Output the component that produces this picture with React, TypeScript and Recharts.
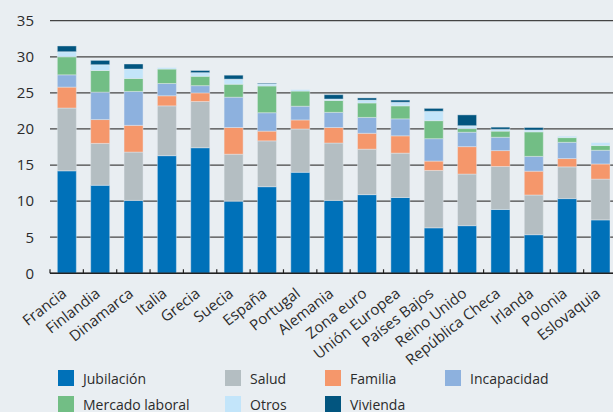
import React from 'react';
import { BarChart, Bar, XAxis, YAxis, CartesianGrid } from 'recharts';

// ---- data ----
const countries = [
  'Francia', 'Finlandia', 'Dinamarca', 'Italia', 'Grecia', 'Suecia', 'España', 'Portugal',
  'Alemania', 'Zona euro', 'Unión Europea', 'Países Bajos', 'Reino Unido', 'República Checa',
  'Irlanda', 'Polonia', 'Eslovaquia',
];
const jubilacion = [14.2, 12.2, 10.1, 16.3, 17.4, 10.0, 12.0, 14.0, 10.1, 10.9, 10.5, 6.3, 6.6, 8.85, 5.35, 10.35, 7.4];
const salud = [8.7, 5.8, 6.7, 6.9, 6.4, 6.5, 6.35, 6.0, 7.95, 6.3, 6.15, 7.95, 7.15, 5.95, 5.5, 4.4, 5.65];
const familia = [2.9, 3.3, 3.7, 1.4, 1.2, 3.7, 1.35, 1.25, 2.15, 2.2, 2.4, 1.3, 3.8, 2.2, 3.3, 1.15, 2.1];
const incapacidad = [1.7, 3.8, 4.7, 1.7, 1.0, 4.2, 2.55, 1.9, 2.1, 2.2, 2.35, 3.1, 2.0, 1.85, 2.05, 2.25, 1.9];
const mercadoLaboral = [2.5, 3.0, 1.8, 2.0, 1.3, 1.8, 3.7, 2.1, 1.65, 2.0, 1.8, 2.5, 0.5, 0.85, 3.4, 0.65, 0.65];
const otros = [0.7, 0.8, 1.3, 0.2, 0.5, 0.7, 0.3, 0.2, 0.2, 0.4, 0.5, 1.3, 0.4, 0.25, 0.25, 0.2, 0.4];
const vivienda = [0.8, 0.6, 0.7, 0, 0.3, 0.55, 0.1, 0, 0.6, 0.3, 0.3, 0.4, 1.5, 0.3, 0.35, 0, 0];
const yTicks = [0, 5, 10, 15, 20, 25, 30, 35];

const series = [
  { key: 'jubilacion', name: 'Jubilación', values: jubilacion, color: '#0071b9' },
  { key: 'salud', name: 'Salud', values: salud, color: '#b4bec2' },
  { key: 'familia', name: 'Familia', values: familia, color: '#f5976b' },
  { key: 'incapacidad', name: 'Incapacidad', values: incapacidad, color: '#8db1de' },
  { key: 'mercado', name: 'Mercado laboral', values: mercadoLaboral, color: '#72be85' },
  { key: 'otros', name: 'Otros', values: otros, color: '#c3e5fa' },
  { key: 'vivienda', name: 'Vivienda', values: vivienda, color: '#02557f' },
];

const data = countries.map((c, i) => {
  const row: Record<string, string | number> = { country: c };
  series.forEach(s => { row[s.key] = s.values[i]; });
  return row;
});

const FONT = '"Open Sans", "Noto Sans", sans-serif';
const BG = '#e9eef2';
const TEXT = '#2b2b2b';

// legend layout: [column x, row y] for each series
const legendPos: [number, number][] = [
  [58, 370], [225, 370], [325, 370], [445, 370],
  [58, 396], [225, 396], [325, 396],
];

// eslint-disable-next-line @typescript-eslint/no-explicit-any
const CountryTick = (props: any) => {
  const { x, y, payload } = props;
  const half = payload.offset ?? 16.7;
  return (
    <g>
      <line x1={x - half} x2={x - half} y1={y} y2={y - 4} stroke="#222" strokeWidth={1.2} />
      <text
        transform={`translate(${x + 1},${y + 22}) rotate(-38)`}
        textAnchor="end"
        fontSize={15}
        fontFamily={FONT}
        fill={TEXT}
      >
        {payload.value}
      </text>
    </g>
  );
};

export default function App() {
  return (
    <div
      style={{
        position: 'absolute', left: 0, top: 0, width: 613, height: 412,
        overflow: 'hidden', background: BG, fontFamily: FONT,
      }}
    >
      <BarChart
        width={630}
        height={412}
        data={data}
        margin={{ top: 20.7, right: 13, left: 0, bottom: 0 }}
        barCategoryGap="22%"
      >
        <CartesianGrid vertical={false} stroke="#444" strokeWidth={1.2} />
        <XAxis
          dataKey="country"
          height={138.7}
          interval={0}
          tickLine={false}
          tickSize={0}
          tickMargin={0}
          axisLine={{ stroke: '#222', strokeWidth: 1.5 }}
          tick={<CountryTick />}
        />
        <YAxis
          width={50}
          domain={[0, 35]}
          ticks={yTicks}
          axisLine={false}
          tickLine={false}
          tickSize={0}
          tickMargin={16}
          tick={{ fontSize: 15, fill: TEXT, fontFamily: FONT }}
        />
        {series.map(s => (
          <Bar
            key={s.key}
            dataKey={s.key}
            name={s.name}
            stackId="a"
            fill={s.color}
            stroke={BG}
            strokeWidth={0.6}
            strokeOpacity={0.7}
            isAnimationActive={false}
          />
        ))}
      </BarChart>
      {series.map((s, i) => (
        <div
          key={s.key}
          style={{
            position: 'absolute', left: legendPos[i][0], top: legendPos[i][1],
            display: 'flex', alignItems: 'center', height: 16,
          }}
        >
          <div style={{ width: 16, height: 16, background: s.color }} />
          <span style={{ marginLeft: 9, fontSize: 14, color: TEXT, whiteSpace: 'nowrap' }}>{s.name}</span>
        </div>
      ))}
    </div>
  );
}
